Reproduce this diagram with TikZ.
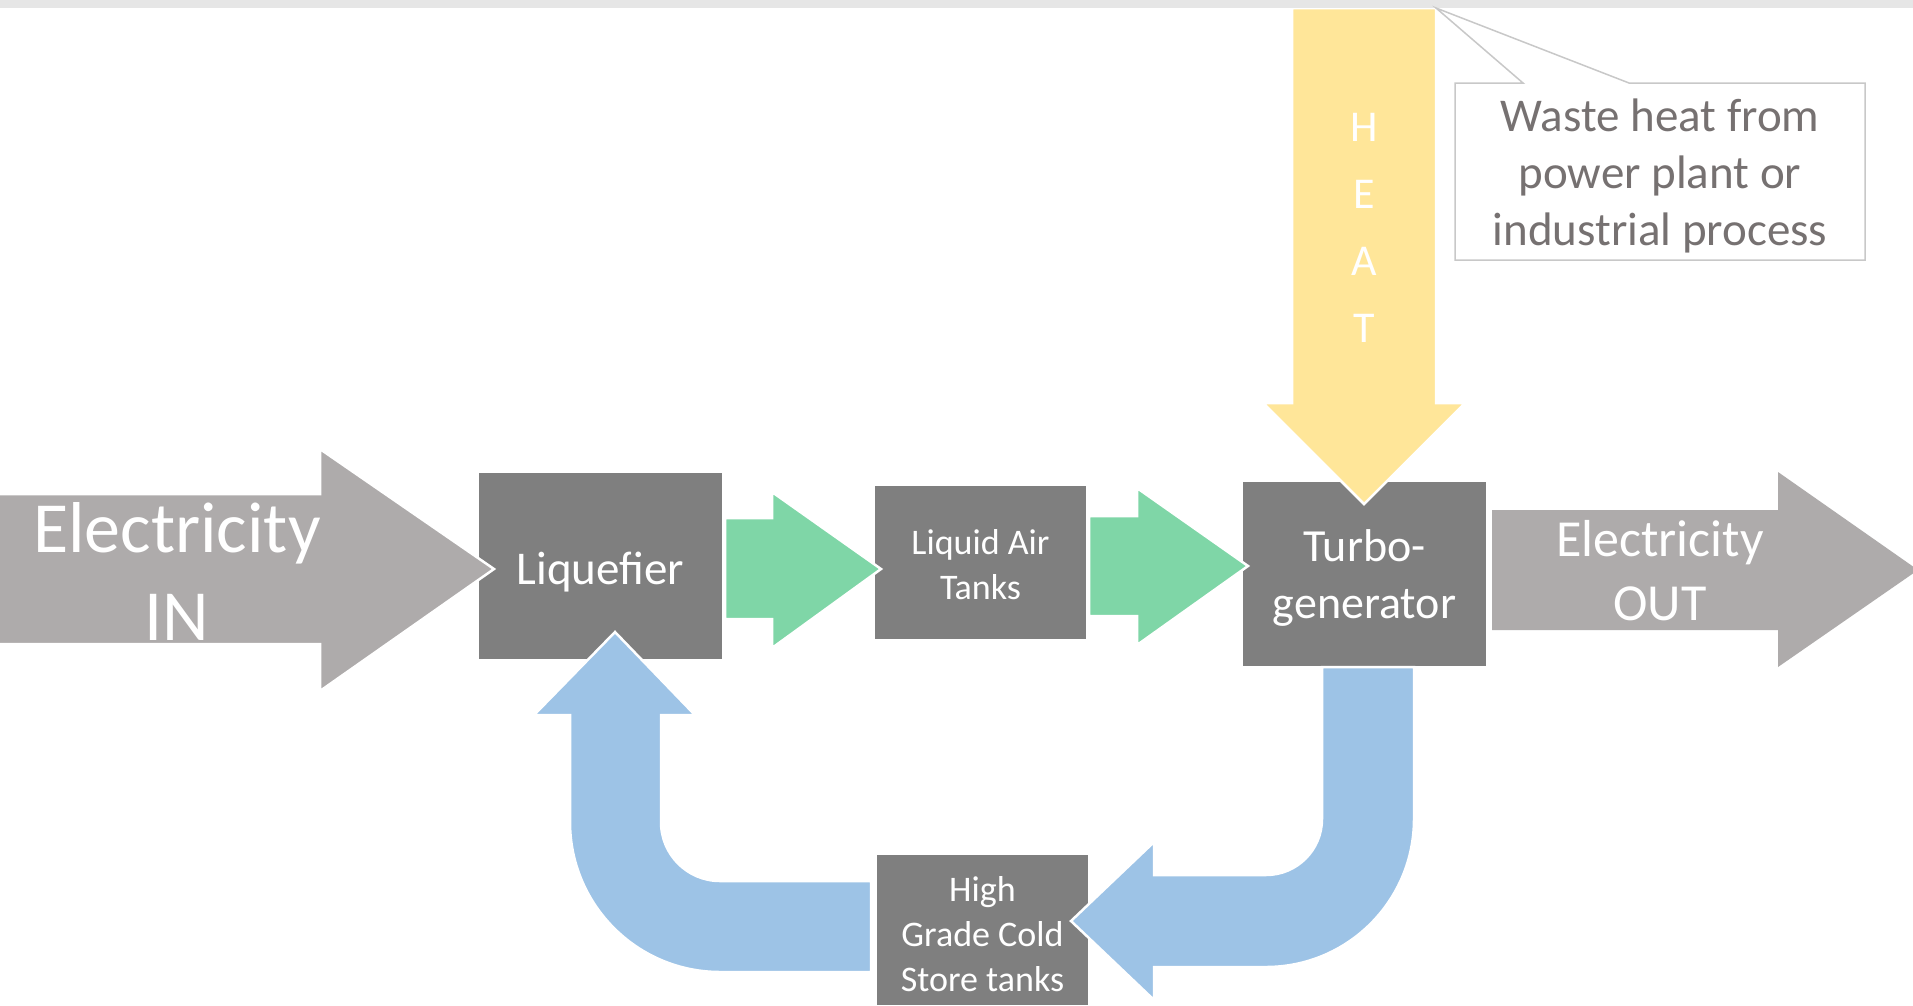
\documentclass[tikz,border=0pt]{standalone}
\usepackage{fontspec}
\setmainfont{Carlito}
\definecolor{boxgray}{RGB}{127,127,127}
\definecolor{arrgray}{RGB}{174,171,171}
\definecolor{flowgreen}{RGB}{127,214,167}
\definecolor{heatyellow}{RGB}{255,230,153}
\definecolor{coldblue}{RGB}{157,195,230}
\definecolor{topbar}{RGB}{230,230,230}
\definecolor{calltext}{RGB}{118,113,113}
\definecolor{callline}{RGB}{200,200,200}
\begin{document}
\begin{tikzpicture}[x=1pt,y=-1pt,
  procbox/.style={fill=boxgray, draw=none, inner sep=0pt},
  boxtext/.style={text=white, align=center, inner sep=0pt},
  blockarrow/.style={draw=white, line width=2.5pt, line join=miter},
  f44/.style={font=\fontsize{46}{57}\selectfont},
  f36/.style={font=\fontsize{36}{45}\selectfont}]
\useasboundingbox (0,0) rectangle (1913,1005);
\fill[white] (0,0) rectangle (1913,1005);

% boxes
\node[procbox, minimum width=243pt, minimum height=186pt] (liq) at (600.5,566) {};
\node[boxtext, font=\fontsize{47}{57}\selectfont] (liqtext) at (600.5,572) {Liquefier};
\node[procbox, minimum width=211pt, minimum height=153pt] (tanks) at (980.5,562.5) {};
\node[boxtext, f36] (tankstext) at (980.5,565) {Liquid Air\\Tanks};
\node[procbox, minimum width=243pt, minimum height=184pt] (turbo) at (1364.5,574) {};
\node[boxtext, f44] (turbotext) at (1364.5,578) {Turbo-\\generator};
\node[procbox, minimum width=211pt, minimum height=150pt] (cold) at (982.5,930) {};
\node[boxtext, f36] (coldtext) at (982.5,934) {High\\Grade Cold\\Store tanks};

% heat arrow
\path[blockarrow, fill=heatyellow] (1292,8) -- (1436,8) -- (1436,403) -- (1465,403) -- (1364,504) -- (1263,403) -- (1292,403) -- cycle;
\node[boxtext, font=\fontsize{44}{67}\selectfont] (heat) at (1364,228) {H\\E\\A\\T};
\fill[topbar] (0,0) rectangle (1913,8);

% electricity in
\path[blockarrow, fill=arrgray] (-5,494) -- (320,494) -- (320,449) -- (494,569) -- (320,691) -- (320,644) -- (-5,644) -- cycle;
\node[boxtext, font=\fontsize{72}{88}\selectfont] (ein) at (177,571) {Electricity\\IN};

% green arrows
\path[blockarrow, fill=flowgreen] (725,518) -- (772,518) -- (772,492) -- (881,569) -- (772,648) -- (772,619) -- (725,619) -- cycle;
\path[blockarrow, fill=flowgreen] (1089,516) -- (1137,516) -- (1137,488) -- (1248,566) -- (1137,645) -- (1137,616) -- (1089,616) -- cycle;

% electricity out
\fill[arrgray] (1492,510) -- (1778,510) -- (1778,472) -- (1918,570) -- (1778,667) -- (1778,630) -- (1492,630) -- cycle;
\node[boxtext, font=\fontsize{52}{64}\selectfont] (eout) at (1660,571) {Electricity\\OUT};

% blue return arrows
\path[blockarrow, fill=coldblue] (1322,667) -- (1414,667) -- (1414,819) arc (0:90:148) -- (1154,967) -- (1154,1000) -- (1071,921) -- (1154,842) -- (1154,875) -- (1266,875) arc (90:0:56) -- cycle;
\path[blockarrow, fill=coldblue] (871,881) -- (720,881) arc (90:180:59) -- (661,715) -- (695,715) -- (615,632) -- (534,715) -- (570,715) -- (570,822) arc (180:90:150) -- (871,972) -- cycle;

% callout
\draw[callline, line width=1.5pt, fill=white, line join=miter] (1455,83) -- (1523,83) -- (1436,8) -- (1629,83) -- (1865,83) -- (1865,260) -- (1455,260) -- cycle;
\node[boxtext, text=calltext, font=\fontsize{47}{57}\selectfont] (waste) at (1660,176) {Waste heat from\\power plant or\\industrial process};
\end{tikzpicture}
\end{document}
